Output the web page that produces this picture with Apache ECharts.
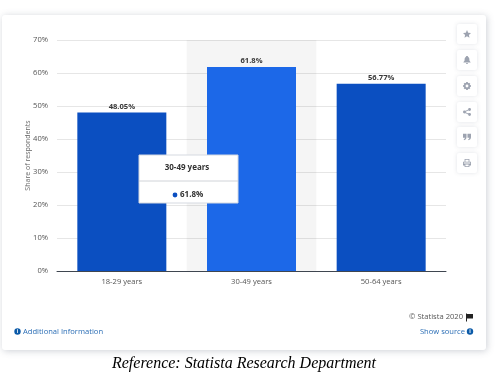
<!DOCTYPE html>
<html>
<head>
<meta charset="utf-8">
<style>
html, body { margin: 0; padding: 0; background: #fff; }
#main { width: 498px; height: 376px; }
</style>
<script src="https://cdn.jsdelivr.net/npm/echarts@6/dist/echarts.min.js"></script>
</head>
<body>
<div id="main"></div>
<script>
var categories = ['18-29 years', '30-49 years', '50-64 years'];
var shares = [48.05, 61.8, 56.77];
var shareLabels = ['48.05%', '61.8%', '56.77%'];
var activeIndex = 1;
var iconTops = [24, 50, 76, 102, 127, 153];
var iconPaths = [
	// star
	'M5 0L6.5 3.4L10 3.8L7.4 6.1L8.1 9.7L5 7.9L1.9 9.7L2.6 6.1L0 3.8L3.5 3.4Z',
	// bell
	'M5 0C6 0 6.4 .6 6.4 1.2C8 2 8 3.6 8 5C8 6.4 9 7 9.6 8L.4 8C1 7 2 6.4 2 5C2 3.6 2 2 3.6 1.2C3.6 .6 4 0 5 0ZM3.8 8.6L6.2 8.6C6.2 9.4 5.6 10 5 10C4.4 10 3.8 9.4 3.8 8.6Z',
	// gear
	'M4 0L6 0L6.3 1.5L7.6 .8L9.1 2.3L8.4 3.6L10 4L10 6L8.4 6.4L9.1 7.7L7.6 9.2L6.3 8.5L6 10L4 10L3.7 8.5L2.4 9.2L.9 7.7L1.6 6.4L0 6L0 4L1.6 3.6L.9 2.3L2.4 .8L3.7 1.5ZM5 3.2A1.8 1.8 0 1 0 5 6.8A1.8 1.8 0 1 0 5 3.2Z',
	// share
	'M1.8 3.2A1.8 1.8 0 1 1 1.8 6.8A1.8 1.8 0 1 1 1.8 3.2ZM8.2 0A1.8 1.8 0 1 1 8.2 3.6A1.8 1.8 0 1 1 8.2 0ZM8.2 6.4A1.8 1.8 0 1 1 8.2 10A1.8 1.8 0 1 1 8.2 6.4ZM1.6 4.4L7.8 1.2L8.3 2.1L2.1 5.3ZM2.1 4.7L8.3 7.9L7.8 8.8L1.6 5.6Z',
	// quote
	'M0 1L4.4 1L4.4 5.4C4.4 7.4 3.2 8.6 1.2 9L.9 7.8C1.8 7.5 2.3 7 2.4 6L0 6ZM5.6 1L10 1L10 5.4C10 7.4 8.8 8.6 6.8 9L6.5 7.8C7.4 7.5 7.9 7 8 6L5.6 6Z',
	// print
	'M2 0L8 0L8 3.4L10 3.4L10 8L8 8L8 10L2 10L2 8L0 8L0 3.4L2 3.4ZM3 1L3 3.4L7 3.4L7 1ZM1 4.4L1 5.6L9 5.6L9 4.4ZM3 7L3 9L7 9L7 7Z'
];
var flagPath = 'M0 0L1 0L1 .6L7 .6L7 5L1 5L1 8L0 8Z';

// the graphic component only knows registered shapes, so register the icons
for (var k = 0; k < iconPaths.length; ++k)
	echarts.graphic.registerShape('sideIcon' + k, echarts.graphic.extendPath(iconPaths[k], {}));
echarts.graphic.registerShape('flagIcon', echarts.graphic.extendPath(flagPath, {}));

var myChart = echarts.init(document.getElementById('main'));

var font = '"Open Sans", sans-serif';
var barColor = '#0b4fc1';
var activeColor = '#1c68e8';
var linkColor = '#2a6db5';

var barData = [];
for (var i = 0; i < shares.length; ++i) {
	barData.push({
		value: shares[i],
		itemStyle: { color: i == activeIndex ? activeColor : barColor }
	});
}

var graphics = [
	{
		type: 'rect', z: -10,
		shape: { x: 2, y: 15, width: 484, height: 335, r: 3 },
		style: { fill: '#fff', shadowBlur: 7, shadowColor: 'rgba(90,100,120,0.3)', shadowOffsetX: 1, shadowOffsetY: 1 }
	},
	{
		type: 'text', x: 244, y: 364, z: 10,
		style: {
			text: 'Reference: Statista Research Department', align: 'center', verticalAlign: 'middle',
			font: 'italic 16px "Liberation Serif", serif', fill: '#000'
		}
	},
	// tooltip box
	{
		type: 'rect', z: 20,
		shape: { x: 139, y: 155, width: 99, height: 48 },
		style: { fill: '#fff', stroke: '#d5d9e0', lineWidth: 1 }
	},
	{
		type: 'line', z: 21,
		shape: { x1: 139, y1: 181, x2: 238, y2: 181 },
		style: { stroke: '#d0d3d8', lineWidth: 1 }
	},
	{
		type: 'text', x: 187, y: 168, z: 21,
		style: {
			text: categories[activeIndex], align: 'center', verticalAlign: 'middle',
			font: 'bold 8px ' + font, fill: '#333'
		}
	},
	{
		type: 'circle', z: 21,
		shape: { cx: 175, cy: 195, r: 2.4 },
		style: { fill: barColor }
	},
	{
		type: 'text', x: 180, y: 195, z: 21,
		style: {
			text: shareLabels[activeIndex], align: 'left', verticalAlign: 'middle',
			font: 'bold 8px ' + font, fill: '#333'
		}
	},
	// footer
	{
		type: 'circle', z: 5,
		shape: { cx: 17.5, cy: 331.5, r: 3.2 },
		style: { fill: '#0b5aa8' }
	},
	{
		type: 'text', x: 17.5, y: 331.5, z: 6,
		style: { text: 'i', align: 'center', verticalAlign: 'middle', font: 'bold 5px ' + font, fill: '#fff' }
	},
	{
		type: 'text', x: 23, y: 331.5, z: 5,
		style: { text: 'Additional Information', align: 'left', verticalAlign: 'middle', font: '7.6px ' + font, fill: linkColor }
	},
	{
		type: 'text', x: 463, y: 317, z: 5,
		style: { text: '\u00A9 Statista 2020', align: 'right', verticalAlign: 'middle', font: '7.6px ' + font, fill: '#555' }
	},
	{
		type: 'flagIcon', z: 5, x: 466, y: 313.5,
		style: { fill: '#222' }
	},
	{
		type: 'text', x: 465, y: 331.5, z: 5,
		style: { text: 'Show source', align: 'right', verticalAlign: 'middle', font: '7.6px ' + font, fill: linkColor }
	},
	{
		type: 'circle', z: 5,
		shape: { cx: 470, cy: 331.5, r: 3.2 },
		style: { fill: '#0b5aa8' }
	},
	{
		type: 'text', x: 470, y: 331.5, z: 6,
		style: { text: 'i', align: 'center', verticalAlign: 'middle', font: 'bold 5px ' + font, fill: '#fff' }
	}
];

// side buttons
for (var j = 0; j < iconTops.length; ++j) {
	graphics.push({
		type: 'rect', z: 5,
		shape: { x: 457, y: iconTops[j], width: 20, height: 20, r: 2 },
		style: { fill: '#fff', shadowBlur: 4, shadowColor: 'rgba(90,100,120,0.18)' }
	});
	graphics.push({
		type: 'sideIcon' + j, z: 6, x: 463, y: iconTops[j] + 6, scaleX: 0.8, scaleY: 0.8,
		style: { fill: '#9da3b0' }
	});
}

var option = {
	animation: false,
	backgroundColor: '#fff',
	textStyle: { fontFamily: font },
	grid: { left: 57, right: 52, top: 40, bottom: 105 },
	xAxis: {
		type: 'category',
		z: 2,
		data: categories,
		axisLine: { lineStyle: { color: '#3f4650', width: 1 } },
		axisTick: { show: false },
		axisLabel: { color: '#555', fontSize: 7.6, margin: 7 },
		splitArea: { show: true, areaStyle: { color: ['rgba(0,0,0,0)', 'rgba(0,0,0,0.04)'] } }
	},
	yAxis: {
		type: 'value',
		z: 1,
		min: 0,
		max: 70,
		interval: 10,
		name: 'Share of respondents',
		nameLocation: 'middle',
		nameGap: 26,
		nameMoveOverlap: false,
		nameTextStyle: { color: '#666', fontSize: 7 },
		axisLine: { show: false },
		axisTick: { show: false },
		axisLabel: { color: '#555', fontSize: 7.6, margin: 9, padding: [2, 0, 0, 0], formatter: '{value}%' },
		splitLine: { lineStyle: { color: '#e6e6e6', width: 1 } }
	},
	series: [
		{
			type: 'bar',
			z: 3,
			data: barData,
			barWidth: 89,
			label: {
				show: true,
				position: 'top',
				distance: 2,
				color: '#3a3a3a',
				fontSize: 7.6,
				fontWeight: 'bold',
				formatter: function (p) { return shareLabels[p.dataIndex]; }
			}
		}
	],
	graphic: { elements: graphics }
};

myChart.setOption(option);
</script>
</body>
</html>
